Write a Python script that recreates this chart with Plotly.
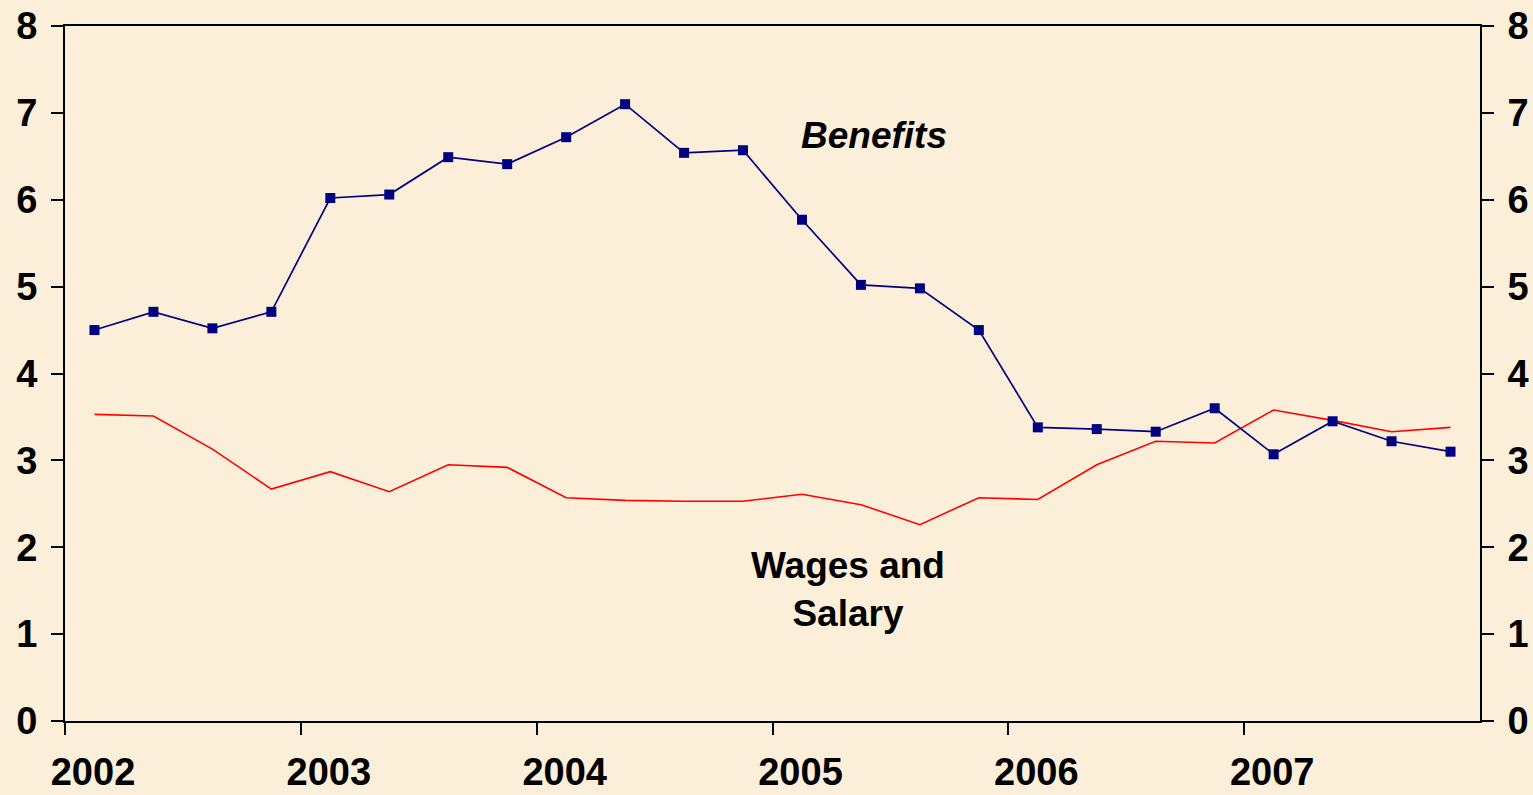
import plotly.graph_objects as go

# Quarterly data 2002Q1 .. 2007Q4
years = [2002, 2003, 2004, 2005, 2006, 2007]
quarters = [y + (q + 0.5) / 4 for y in years for q in range(4)]

benefits = [4.50, 4.71, 4.52, 4.71, 6.02, 6.06, 6.49, 6.41, 6.72, 7.10, 6.54, 6.57,
            5.77, 5.02, 4.98, 4.50, 3.38, 3.36, 3.33, 3.60, 3.07, 3.45, 3.22, 3.10]
wages = [3.53, 3.51, 3.13, 2.67, 2.87, 2.64, 2.95, 2.92, 2.57, 2.54, 2.53, 2.53,
         2.61, 2.49, 2.26, 2.57, 2.55, 2.95, 3.22, 3.20, 3.58, 3.46, 3.33, 3.38]

y_ticks = [0, 1, 2, 3, 4, 5, 6, 7, 8]
x_tick_labels = [str(y) for y in years]

FONT = "Liberation Sans, Arial, sans-serif"
BG = "#FCEFDA"
TICKFONT = dict(family=FONT, size=38, color="black", weight="bold")

fig = go.Figure()
fig.add_trace(go.Scatter(x=quarters, y=wages, mode="lines",
                         line=dict(color="#FF0000", width=1.6),
                         showlegend=False, name="Wages and Salary"))
fig.add_trace(go.Scatter(x=quarters, y=benefits, mode="lines+markers",
                         line=dict(color="#000080", width=1.7),
                         marker=dict(symbol="square", size=10, color="#000080"),
                         showlegend=False, name="Benefits"))
# invisible trace to activate the right-hand axis
fig.add_trace(go.Scatter(x=quarters, y=benefits, yaxis="y2", mode="lines",
                         line=dict(width=0), opacity=0, hoverinfo="skip",
                         showlegend=False))

fig.update_layout(
    width=1533, height=795,
    margin=dict(l=65, r=53, t=26, b=74),
    paper_bgcolor=BG, plot_bgcolor=BG,
    font=dict(family=FONT, color="black"),
    xaxis=dict(range=[2002, 2008], tickvals=years, ticktext=x_tick_labels,
               ticks="outside", ticklen=12, tickwidth=1.5, tickcolor="black",
               showline=True, linecolor="black", linewidth=2, mirror=True,
               showgrid=False, zeroline=False, ticklabelshift=28,
               ticklabelstandoff=4, automargin=False, tickfont=TICKFONT),
    yaxis=dict(range=[0, 8], tickvals=y_ticks, ticks="outside", ticklen=12,
               tickwidth=1.5, tickcolor="black", showline=True, linecolor="black",
               linewidth=2, showgrid=False, zeroline=False, ticklabelstandoff=6,
               automargin=False, tickfont=TICKFONT),
    yaxis2=dict(range=[0, 8], tickvals=y_ticks, overlaying="y", side="right",
                ticks="outside", ticklen=12, tickwidth=1.5, tickcolor="black",
                showline=True, linecolor="black", linewidth=2, showgrid=False,
                zeroline=False, ticklabelstandoff=6, automargin=False,
                tickfont=TICKFONT),
    annotations=[
        dict(x=2005.43, y=6.74, xref="x", yref="y", text="<b><i>Benefits</i></b>",
             showarrow=False, font=dict(family=FONT, size=37, color="black")),
        dict(x=2005.32, y=1.51, xref="x", yref="y", text="<b>Wages and<br>Salary</b>",
             showarrow=False, font=dict(family=FONT, size=37, color="black")),
    ],
)

fig.write_html(
    "out.html",
    config={"displayModeBar": False},
    post_script="document.body.style.margin='0';"
                "document.body.style.background='%s';" % BG,
)
